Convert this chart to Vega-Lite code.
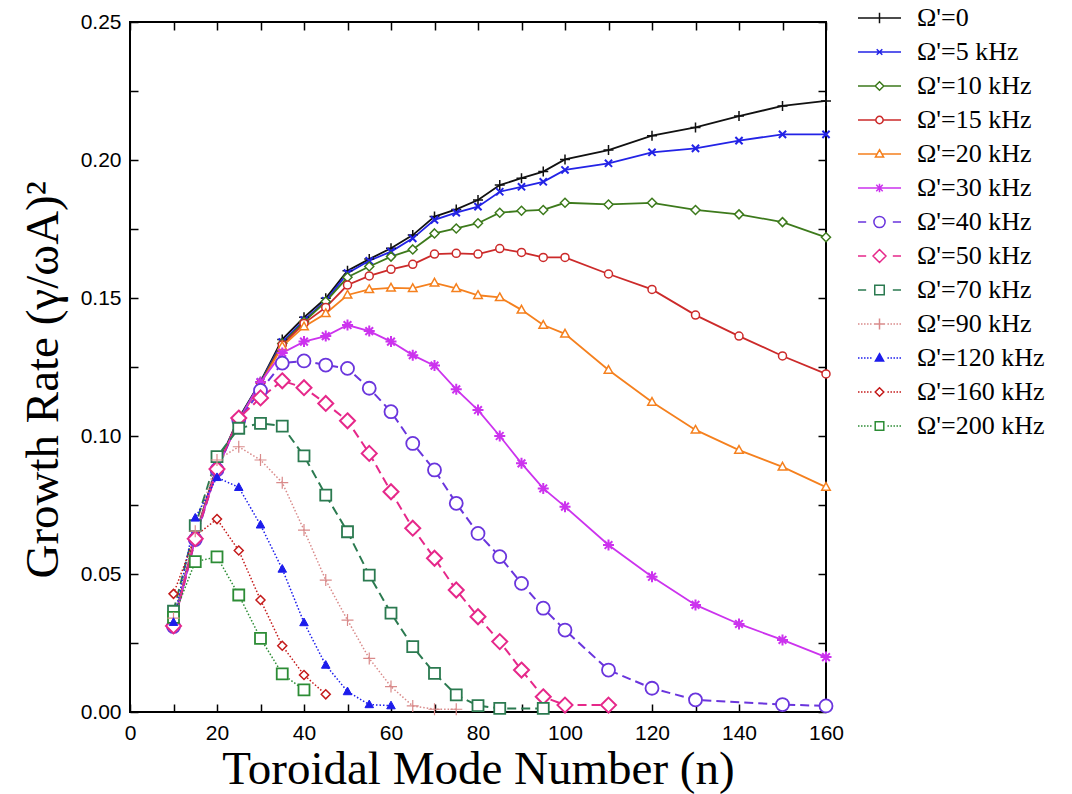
{
  "$schema": "https://vega.github.io/schema/vega-lite/v6.json",
  "width": 696,
  "height": 690,
  "autosize": {"type": "none"},
  "padding": {"left": 130, "top": 22, "right": 246, "bottom": 82},
  "background": "white",
  "data": {
    "values": [
      {"s": "Ω'=0", "n": 10, "g": 0.032}, {"s": "Ω'=0", "n": 15, "g": 0.064}, {"s": "Ω'=0", "n": 20, "g": 0.089}, {"s": "Ω'=0", "n": 25, "g": 0.1065}, {"s": "Ω'=0", "n": 30, "g": 0.1197}, {"s": "Ω'=0", "n": 35, "g": 0.135}, {"s": "Ω'=0", "n": 40, "g": 0.143}, {"s": "Ω'=0", "n": 45, "g": 0.1499}, {"s": "Ω'=0", "n": 50, "g": 0.1599}, {"s": "Ω'=0", "n": 55, "g": 0.1641}, {"s": "Ω'=0", "n": 60, "g": 0.168}, {"s": "Ω'=0", "n": 65, "g": 0.1728}, {"s": "Ω'=0", "n": 70, "g": 0.1795}, {"s": "Ω'=0", "n": 75, "g": 0.1821}, {"s": "Ω'=0", "n": 80, "g": 0.1855}, {"s": "Ω'=0", "n": 85, "g": 0.1909}, {"s": "Ω'=0", "n": 90, "g": 0.1934}, {"s": "Ω'=0", "n": 95, "g": 0.1958}, {"s": "Ω'=0", "n": 100, "g": 0.2002}, {"s": "Ω'=0", "n": 110, "g": 0.2036}, {"s": "Ω'=0", "n": 120, "g": 0.2088}, {"s": "Ω'=0", "n": 130, "g": 0.2118}, {"s": "Ω'=0", "n": 140, "g": 0.2159}, {"s": "Ω'=0", "n": 150, "g": 0.2196}, {"s": "Ω'=0", "n": 160, "g": 0.2214},
      {"s": "Ω'=5 kHz", "n": 10, "g": 0.0318}, {"s": "Ω'=5 kHz", "n": 15, "g": 0.0638}, {"s": "Ω'=5 kHz", "n": 20, "g": 0.0888}, {"s": "Ω'=5 kHz", "n": 25, "g": 0.1062}, {"s": "Ω'=5 kHz", "n": 30, "g": 0.1195}, {"s": "Ω'=5 kHz", "n": 35, "g": 0.134}, {"s": "Ω'=5 kHz", "n": 40, "g": 0.142}, {"s": "Ω'=5 kHz", "n": 45, "g": 0.149}, {"s": "Ω'=5 kHz", "n": 50, "g": 0.159}, {"s": "Ω'=5 kHz", "n": 55, "g": 0.1635}, {"s": "Ω'=5 kHz", "n": 60, "g": 0.1668}, {"s": "Ω'=5 kHz", "n": 65, "g": 0.1716}, {"s": "Ω'=5 kHz", "n": 70, "g": 0.1783}, {"s": "Ω'=5 kHz", "n": 75, "g": 0.1809}, {"s": "Ω'=5 kHz", "n": 80, "g": 0.1831}, {"s": "Ω'=5 kHz", "n": 85, "g": 0.1885}, {"s": "Ω'=5 kHz", "n": 90, "g": 0.1903}, {"s": "Ω'=5 kHz", "n": 95, "g": 0.1921}, {"s": "Ω'=5 kHz", "n": 100, "g": 0.1964}, {"s": "Ω'=5 kHz", "n": 110, "g": 0.1988}, {"s": "Ω'=5 kHz", "n": 120, "g": 0.2028}, {"s": "Ω'=5 kHz", "n": 130, "g": 0.2042}, {"s": "Ω'=5 kHz", "n": 140, "g": 0.207}, {"s": "Ω'=5 kHz", "n": 150, "g": 0.2093}, {"s": "Ω'=5 kHz", "n": 160, "g": 0.2093},
      {"s": "Ω'=10 kHz", "n": 10, "g": 0.0316}, {"s": "Ω'=10 kHz", "n": 15, "g": 0.0636}, {"s": "Ω'=10 kHz", "n": 20, "g": 0.0886}, {"s": "Ω'=10 kHz", "n": 25, "g": 0.106}, {"s": "Ω'=10 kHz", "n": 30, "g": 0.1193}, {"s": "Ω'=10 kHz", "n": 35, "g": 0.1335}, {"s": "Ω'=10 kHz", "n": 40, "g": 0.1414}, {"s": "Ω'=10 kHz", "n": 45, "g": 0.1487}, {"s": "Ω'=10 kHz", "n": 50, "g": 0.1575}, {"s": "Ω'=10 kHz", "n": 55, "g": 0.1614}, {"s": "Ω'=10 kHz", "n": 60, "g": 0.165}, {"s": "Ω'=10 kHz", "n": 65, "g": 0.1676}, {"s": "Ω'=10 kHz", "n": 70, "g": 0.1734}, {"s": "Ω'=10 kHz", "n": 75, "g": 0.1752}, {"s": "Ω'=10 kHz", "n": 80, "g": 0.1771}, {"s": "Ω'=10 kHz", "n": 85, "g": 0.1809}, {"s": "Ω'=10 kHz", "n": 90, "g": 0.1816}, {"s": "Ω'=10 kHz", "n": 95, "g": 0.1819}, {"s": "Ω'=10 kHz", "n": 100, "g": 0.1845}, {"s": "Ω'=10 kHz", "n": 110, "g": 0.1839}, {"s": "Ω'=10 kHz", "n": 120, "g": 0.1845}, {"s": "Ω'=10 kHz", "n": 130, "g": 0.1819}, {"s": "Ω'=10 kHz", "n": 140, "g": 0.1803}, {"s": "Ω'=10 kHz", "n": 150, "g": 0.1775}, {"s": "Ω'=10 kHz", "n": 160, "g": 0.172},
      {"s": "Ω'=15 kHz", "n": 10, "g": 0.0315}, {"s": "Ω'=15 kHz", "n": 15, "g": 0.0634}, {"s": "Ω'=15 kHz", "n": 20, "g": 0.0884}, {"s": "Ω'=15 kHz", "n": 25, "g": 0.1058}, {"s": "Ω'=15 kHz", "n": 30, "g": 0.119}, {"s": "Ω'=15 kHz", "n": 35, "g": 0.133}, {"s": "Ω'=15 kHz", "n": 40, "g": 0.1408}, {"s": "Ω'=15 kHz", "n": 45, "g": 0.1466}, {"s": "Ω'=15 kHz", "n": 50, "g": 0.1547}, {"s": "Ω'=15 kHz", "n": 55, "g": 0.158}, {"s": "Ω'=15 kHz", "n": 60, "g": 0.1604}, {"s": "Ω'=15 kHz", "n": 65, "g": 0.1622}, {"s": "Ω'=15 kHz", "n": 70, "g": 0.1659}, {"s": "Ω'=15 kHz", "n": 75, "g": 0.1662}, {"s": "Ω'=15 kHz", "n": 80, "g": 0.1659}, {"s": "Ω'=15 kHz", "n": 85, "g": 0.1679}, {"s": "Ω'=15 kHz", "n": 90, "g": 0.1665}, {"s": "Ω'=15 kHz", "n": 95, "g": 0.1647}, {"s": "Ω'=15 kHz", "n": 100, "g": 0.1647}, {"s": "Ω'=15 kHz", "n": 110, "g": 0.1587}, {"s": "Ω'=15 kHz", "n": 120, "g": 0.1531}, {"s": "Ω'=15 kHz", "n": 130, "g": 0.1438}, {"s": "Ω'=15 kHz", "n": 140, "g": 0.1362}, {"s": "Ω'=15 kHz", "n": 150, "g": 0.129}, {"s": "Ω'=15 kHz", "n": 160, "g": 0.1225},
      {"s": "Ω'=20 kHz", "n": 10, "g": 0.0314}, {"s": "Ω'=20 kHz", "n": 15, "g": 0.0632}, {"s": "Ω'=20 kHz", "n": 20, "g": 0.0882}, {"s": "Ω'=20 kHz", "n": 25, "g": 0.1056}, {"s": "Ω'=20 kHz", "n": 30, "g": 0.1188}, {"s": "Ω'=20 kHz", "n": 35, "g": 0.1325}, {"s": "Ω'=20 kHz", "n": 40, "g": 0.1396}, {"s": "Ω'=20 kHz", "n": 45, "g": 0.1444}, {"s": "Ω'=20 kHz", "n": 50, "g": 0.1511}, {"s": "Ω'=20 kHz", "n": 55, "g": 0.1531}, {"s": "Ω'=20 kHz", "n": 60, "g": 0.1537}, {"s": "Ω'=20 kHz", "n": 65, "g": 0.1535}, {"s": "Ω'=20 kHz", "n": 70, "g": 0.1555}, {"s": "Ω'=20 kHz", "n": 75, "g": 0.1535}, {"s": "Ω'=20 kHz", "n": 80, "g": 0.151}, {"s": "Ω'=20 kHz", "n": 85, "g": 0.1502}, {"s": "Ω'=20 kHz", "n": 90, "g": 0.1457}, {"s": "Ω'=20 kHz", "n": 95, "g": 0.1402}, {"s": "Ω'=20 kHz", "n": 100, "g": 0.137}, {"s": "Ω'=20 kHz", "n": 110, "g": 0.1239}, {"s": "Ω'=20 kHz", "n": 120, "g": 0.1123}, {"s": "Ω'=20 kHz", "n": 130, "g": 0.1022}, {"s": "Ω'=20 kHz", "n": 140, "g": 0.0949}, {"s": "Ω'=20 kHz", "n": 150, "g": 0.0888}, {"s": "Ω'=20 kHz", "n": 160, "g": 0.0815},
      {"s": "Ω'=30 kHz", "n": 10, "g": 0.0312}, {"s": "Ω'=30 kHz", "n": 15, "g": 0.063}, {"s": "Ω'=30 kHz", "n": 20, "g": 0.088}, {"s": "Ω'=30 kHz", "n": 25, "g": 0.1055}, {"s": "Ω'=30 kHz", "n": 30, "g": 0.1195}, {"s": "Ω'=30 kHz", "n": 35, "g": 0.1301}, {"s": "Ω'=30 kHz", "n": 40, "g": 0.1342}, {"s": "Ω'=30 kHz", "n": 45, "g": 0.1362}, {"s": "Ω'=30 kHz", "n": 50, "g": 0.1402}, {"s": "Ω'=30 kHz", "n": 55, "g": 0.138}, {"s": "Ω'=30 kHz", "n": 60, "g": 0.1342}, {"s": "Ω'=30 kHz", "n": 65, "g": 0.1293}, {"s": "Ω'=30 kHz", "n": 70, "g": 0.1255}, {"s": "Ω'=30 kHz", "n": 75, "g": 0.1169}, {"s": "Ω'=30 kHz", "n": 80, "g": 0.1094}, {"s": "Ω'=30 kHz", "n": 85, "g": 0.1}, {"s": "Ω'=30 kHz", "n": 90, "g": 0.0901}, {"s": "Ω'=30 kHz", "n": 95, "g": 0.081}, {"s": "Ω'=30 kHz", "n": 100, "g": 0.0744}, {"s": "Ω'=30 kHz", "n": 110, "g": 0.0605}, {"s": "Ω'=30 kHz", "n": 120, "g": 0.049}, {"s": "Ω'=30 kHz", "n": 130, "g": 0.0388}, {"s": "Ω'=30 kHz", "n": 140, "g": 0.0319}, {"s": "Ω'=30 kHz", "n": 150, "g": 0.0261}, {"s": "Ω'=30 kHz", "n": 160, "g": 0.0199},
      {"s": "Ω'=40 kHz", "n": 10, "g": 0.031}, {"s": "Ω'=40 kHz", "n": 15, "g": 0.0625}, {"s": "Ω'=40 kHz", "n": 20, "g": 0.0878}, {"s": "Ω'=40 kHz", "n": 25, "g": 0.1058}, {"s": "Ω'=40 kHz", "n": 30, "g": 0.1165}, {"s": "Ω'=40 kHz", "n": 35, "g": 0.1264}, {"s": "Ω'=40 kHz", "n": 40, "g": 0.1272}, {"s": "Ω'=40 kHz", "n": 45, "g": 0.1257}, {"s": "Ω'=40 kHz", "n": 50, "g": 0.1245}, {"s": "Ω'=40 kHz", "n": 55, "g": 0.1173}, {"s": "Ω'=40 kHz", "n": 60, "g": 0.1088}, {"s": "Ω'=40 kHz", "n": 65, "g": 0.0973}, {"s": "Ω'=40 kHz", "n": 70, "g": 0.0877}, {"s": "Ω'=40 kHz", "n": 75, "g": 0.0756}, {"s": "Ω'=40 kHz", "n": 80, "g": 0.0647}, {"s": "Ω'=40 kHz", "n": 85, "g": 0.0563}, {"s": "Ω'=40 kHz", "n": 90, "g": 0.0466}, {"s": "Ω'=40 kHz", "n": 95, "g": 0.0376}, {"s": "Ω'=40 kHz", "n": 100, "g": 0.0297}, {"s": "Ω'=40 kHz", "n": 110, "g": 0.0152}, {"s": "Ω'=40 kHz", "n": 120, "g": 0.0086}, {"s": "Ω'=40 kHz", "n": 130, "g": 0.0044}, {"s": "Ω'=40 kHz", "n": 150, "g": 0.0027}, {"s": "Ω'=40 kHz", "n": 160, "g": 0.0022},
      {"s": "Ω'=50 kHz", "n": 10, "g": 0.0312}, {"s": "Ω'=50 kHz", "n": 15, "g": 0.0628}, {"s": "Ω'=50 kHz", "n": 20, "g": 0.088}, {"s": "Ω'=50 kHz", "n": 25, "g": 0.1065}, {"s": "Ω'=50 kHz", "n": 30, "g": 0.1138}, {"s": "Ω'=50 kHz", "n": 35, "g": 0.12}, {"s": "Ω'=50 kHz", "n": 40, "g": 0.1175}, {"s": "Ω'=50 kHz", "n": 45, "g": 0.1118}, {"s": "Ω'=50 kHz", "n": 50, "g": 0.1055}, {"s": "Ω'=50 kHz", "n": 55, "g": 0.0937}, {"s": "Ω'=50 kHz", "n": 60, "g": 0.0798}, {"s": "Ω'=50 kHz", "n": 65, "g": 0.0666}, {"s": "Ω'=50 kHz", "n": 70, "g": 0.0557}, {"s": "Ω'=50 kHz", "n": 75, "g": 0.0442}, {"s": "Ω'=50 kHz", "n": 80, "g": 0.0345}, {"s": "Ω'=50 kHz", "n": 85, "g": 0.0255}, {"s": "Ω'=50 kHz", "n": 90, "g": 0.0152}, {"s": "Ω'=50 kHz", "n": 95, "g": 0.0055}, {"s": "Ω'=50 kHz", "n": 100, "g": 0.0025}, {"s": "Ω'=50 kHz", "n": 110, "g": 0.0025},
      {"s": "Ω'=70 kHz", "n": 10, "g": 0.0365}, {"s": "Ω'=70 kHz", "n": 15, "g": 0.0675}, {"s": "Ω'=70 kHz", "n": 20, "g": 0.0925}, {"s": "Ω'=70 kHz", "n": 25, "g": 0.1028}, {"s": "Ω'=70 kHz", "n": 30, "g": 0.1046}, {"s": "Ω'=70 kHz", "n": 35, "g": 0.1036}, {"s": "Ω'=70 kHz", "n": 40, "g": 0.0928}, {"s": "Ω'=70 kHz", "n": 45, "g": 0.0786}, {"s": "Ω'=70 kHz", "n": 50, "g": 0.0653}, {"s": "Ω'=70 kHz", "n": 55, "g": 0.0496}, {"s": "Ω'=70 kHz", "n": 60, "g": 0.0358}, {"s": "Ω'=70 kHz", "n": 65, "g": 0.0237}, {"s": "Ω'=70 kHz", "n": 70, "g": 0.014}, {"s": "Ω'=70 kHz", "n": 75, "g": 0.0062}, {"s": "Ω'=70 kHz", "n": 80, "g": 0.0023}, {"s": "Ω'=70 kHz", "n": 85, "g": 0.0013}, {"s": "Ω'=70 kHz", "n": 95, "g": 0.0013},
      {"s": "Ω'=90 kHz", "n": 10, "g": 0.034}, {"s": "Ω'=90 kHz", "n": 15, "g": 0.0655}, {"s": "Ω'=90 kHz", "n": 20, "g": 0.0913}, {"s": "Ω'=90 kHz", "n": 25, "g": 0.0961}, {"s": "Ω'=90 kHz", "n": 30, "g": 0.0913}, {"s": "Ω'=90 kHz", "n": 35, "g": 0.0831}, {"s": "Ω'=90 kHz", "n": 40, "g": 0.0659}, {"s": "Ω'=90 kHz", "n": 45, "g": 0.0478}, {"s": "Ω'=90 kHz", "n": 50, "g": 0.0333}, {"s": "Ω'=90 kHz", "n": 55, "g": 0.0194}, {"s": "Ω'=90 kHz", "n": 60, "g": 0.0092}, {"s": "Ω'=90 kHz", "n": 65, "g": 0.0022}, {"s": "Ω'=90 kHz", "n": 70, "g": 0.001}, {"s": "Ω'=90 kHz", "n": 75, "g": 0.001},
      {"s": "Ω'=120 kHz", "n": 10, "g": 0.0325}, {"s": "Ω'=120 kHz", "n": 15, "g": 0.0703}, {"s": "Ω'=120 kHz", "n": 20, "g": 0.085}, {"s": "Ω'=120 kHz", "n": 25, "g": 0.0814}, {"s": "Ω'=120 kHz", "n": 30, "g": 0.0678}, {"s": "Ω'=120 kHz", "n": 35, "g": 0.0518}, {"s": "Ω'=120 kHz", "n": 40, "g": 0.0324}, {"s": "Ω'=120 kHz", "n": 45, "g": 0.017}, {"s": "Ω'=120 kHz", "n": 50, "g": 0.0074}, {"s": "Ω'=120 kHz", "n": 55, "g": 0.0027}, {"s": "Ω'=120 kHz", "n": 60, "g": 0.0023},
      {"s": "Ω'=160 kHz", "n": 10, "g": 0.0428}, {"s": "Ω'=160 kHz", "n": 15, "g": 0.0638}, {"s": "Ω'=160 kHz", "n": 20, "g": 0.0699}, {"s": "Ω'=160 kHz", "n": 25, "g": 0.0585}, {"s": "Ω'=160 kHz", "n": 30, "g": 0.0406}, {"s": "Ω'=160 kHz", "n": 35, "g": 0.024}, {"s": "Ω'=160 kHz", "n": 40, "g": 0.0134}, {"s": "Ω'=160 kHz", "n": 45, "g": 0.0064},
      {"s": "Ω'=200 kHz", "n": 10, "g": 0.0343}, {"s": "Ω'=200 kHz", "n": 15, "g": 0.0545}, {"s": "Ω'=200 kHz", "n": 20, "g": 0.0562}, {"s": "Ω'=200 kHz", "n": 25, "g": 0.0424}, {"s": "Ω'=200 kHz", "n": 30, "g": 0.0267}, {"s": "Ω'=200 kHz", "n": 35, "g": 0.0138}, {"s": "Ω'=200 kHz", "n": 40, "g": 0.008}
    ]
  },
  "encoding": {
    "x": {"field": "n", "type": "quantitative", "scale": {"domain": [0, 160], "nice": false}, "axis": null},
    "y": {"field": "g", "type": "quantitative", "scale": {"domain": [0, 0.25], "nice": false}, "axis": null},
    "stroke": {
      "field": "s",
      "type": "nominal",
      "scale": {
        "domain": ["Ω'=0", "Ω'=5 kHz", "Ω'=10 kHz", "Ω'=15 kHz", "Ω'=20 kHz", "Ω'=30 kHz", "Ω'=40 kHz", "Ω'=50 kHz", "Ω'=70 kHz", "Ω'=90 kHz", "Ω'=120 kHz", "Ω'=160 kHz", "Ω'=200 kHz"],
        "range": ["#111111", "#2323e6", "#3d7a1c", "#cc2a2a", "#f5801e", "#cc33ee", "#6a35dd", "#e6288a", "#2b7a50", "#d98a8a", "#1c1cec", "#c41a1a", "#2c8c35"]
      }
    }
  },
  "layer": [
    {
      "transform": [{"filter": "false"}],
      "mark": {"type": "point", "fill": "white", "opacity": 1, "strokeWidth": 1.5},
      "encoding": {
        "x": {"field": "n", "type": "quantitative", "scale": {"domain": [0, 160], "nice": false},
              "axis": {"orient": "top", "values": [0, 10, 20, 30, 40, 50, 60, 70, 80, 90, 100, 110, 120, 130, 140, 150, 160], "labels": false, "title": null}},
        "y": {"field": "g", "type": "quantitative", "scale": {"domain": [0, 0.25], "nice": false},
              "axis": {"orient": "right", "values": [0, 0.025, 0.05, 0.075, 0.1, 0.125, 0.15, 0.175, 0.2, 0.225, 0.25], "labels": false, "title": null}},
        "stroke": {
          "field": "s", "type": "nominal",
          "legend": {"title": null, "orient": "none", "legendX": 727, "legendY": -17}
        },
        "shape": {
          "field": "s", "type": "nominal",
          "scale": {
            "domain": ["Ω'=0", "Ω'=5 kHz", "Ω'=10 kHz", "Ω'=15 kHz", "Ω'=20 kHz", "Ω'=30 kHz", "Ω'=40 kHz", "Ω'=50 kHz", "Ω'=70 kHz", "Ω'=90 kHz", "Ω'=120 kHz", "Ω'=160 kHz", "Ω'=200 kHz"],
            "range": [
              "M-1,0H1M0,-0.24V0.24",
              "M-1,0H1M-0.13,-0.13L0.13,0.13M-0.13,0.13L0.13,-0.13",
              "M-1,0H-0.2M0.2,0H1M0,-0.2L0.2,0L0,0.2L-0.2,0Z",
              "M-1,0H-0.17M0.17,0H1M-0.17,0A0.17,0.17,0,1,0,0.17,0A0.17,0.17,0,1,0,-0.17,0Z",
              "M-1,0H-0.12M0.12,0H1M0,-0.2L0.19,0.14L-0.19,0.14Z",
              "M-1,0H1M0,-0.2V0.2M-0.15,-0.15L0.15,0.15M-0.15,0.15L0.15,-0.15",
              "M-1,0H-0.62M0.62,0H1M-0.26,0A0.26,0.26,0,1,0,0.26,0A0.26,0.26,0,1,0,-0.26,0Z",
              "M-1,0H-0.62M0.62,0H1M0,-0.3L0.3,0L0,0.3L-0.3,0Z",
              "M-1,0H-0.62M0.62,0H1M-0.22,-0.22H0.22V0.22H-0.22Z",
              "M-1,0h0.07M-0.86,0h0.07M-0.72,0h0.07M-0.58,0h0.07M-0.44,0h0.07M0.37,0h0.07M0.51,0h0.07M0.65,0h0.07M0.79,0h0.07M0.93,0h0.07M-0.26,0H0.26M0,-0.26V0.26",
              "M-1,0h0.07M-0.86,0h0.07M-0.72,0h0.07M-0.58,0h0.07M-0.44,0h0.07M0.37,0h0.07M0.51,0h0.07M0.65,0h0.07M0.79,0h0.07M0.93,0h0.07M0,-0.2L0.19,0.14L-0.19,0.14ZM0,-0.11L0.1,0.08L-0.1,0.08ZM0,-0.03L0.03,0.03L-0.03,0.03Z",
              "M-1,0h0.07M-0.86,0h0.07M-0.72,0h0.07M-0.58,0h0.07M-0.44,0h0.07M0.37,0h0.07M0.51,0h0.07M0.65,0h0.07M0.79,0h0.07M0.93,0h0.07M0,-0.2L0.2,0L0,0.2L-0.2,0Z",
              "M-1,0h0.07M-0.86,0h0.07M-0.72,0h0.07M-0.58,0h0.07M-0.44,0h0.07M0.37,0h0.07M0.51,0h0.07M0.65,0h0.07M0.79,0h0.07M0.93,0h0.07M-0.2,-0.2H0.2V0.2H-0.2Z"
            ]
          },
          "legend": {"title": null, "orient": "none", "legendX": 727, "legendY": -17}
        }
      }
    },
    {
      "transform": [{"filter": {"field": "s", "oneOf": ["Ω'=0", "Ω'=5 kHz", "Ω'=10 kHz", "Ω'=15 kHz", "Ω'=20 kHz", "Ω'=30 kHz"]}}],
      "mark": {"type": "line", "strokeWidth": 1.8},
      "encoding": {
        "x": {"field": "n", "type": "quantitative", "scale": {"domain": [0, 160], "nice": false},
              "axis": {"orient": "bottom", "values": [0, 10, 20, 30, 40, 50, 60, 70, 80, 90, 100, 110, 120, 130, 140, 150, 160],
                       "labelExpr": "datum.value % 20 === 0 ? datum.label : ''", "format": "d", "labelPadding": 18,
                       "title": "Toroidal Mode Number (n)", "titleY": 71, "titleBaseline": "alphabetic"}},
        "y": {"field": "g", "type": "quantitative", "scale": {"domain": [0, 0.25], "nice": false},
              "axis": {"orient": "left", "values": [0, 0.025, 0.05, 0.075, 0.1, 0.125, 0.15, 0.175, 0.2, 0.225, 0.25],
                       "labelExpr": "abs(datum.value * 20 - round(datum.value * 20)) < 0.001 ? format(datum.value, '.2f') : ''",
                       "labelPadding": 17,
                       "title": "Growth Rate (γ/ωA)²", "titleAngle": -90, "titleX": -73, "titleY": 556, "titleAlign": "left", "titleBaseline": "alphabetic"}}
      }
    },
    {
      "transform": [{"filter": {"field": "s", "oneOf": ["Ω'=40 kHz", "Ω'=50 kHz", "Ω'=70 kHz"]}}],
      "mark": {"type": "line", "strokeWidth": 2, "strokeDash": [9, 5]}
    },
    {
      "transform": [{"filter": {"field": "s", "oneOf": ["Ω'=90 kHz", "Ω'=120 kHz", "Ω'=160 kHz", "Ω'=200 kHz"]}}],
      "mark": {"type": "line", "strokeWidth": 1.5, "strokeDash": [1.5, 2]}
    },
    {
      "transform": [{"filter": {"field": "s", "equal": "Ω'=0"}}],
      "mark": {"type": "point", "shape": "M-1,0H1M0,-1V1", "size": 100, "strokeWidth": 1.5, "opacity": 1}
    },
    {
      "transform": [{"filter": {"field": "s", "equal": "Ω'=5 kHz"}}],
      "mark": {"type": "point", "shape": "M-0.8,-0.8L0.8,0.8M-0.8,0.8L0.8,-0.8", "size": 81, "strokeWidth": 2, "opacity": 1}
    },
    {
      "transform": [{"filter": {"field": "s", "oneOf": ["Ω'=10 kHz", "Ω'=160 kHz"]}}],
      "mark": {"type": "point", "shape": "M0,-1L1,0L0,1L-1,0Z", "size": 81, "strokeWidth": 1.5, "fill": "white", "opacity": 1}
    },
    {
      "transform": [{"filter": {"field": "s", "equal": "Ω'=15 kHz"}}],
      "mark": {"type": "point", "shape": "circle", "size": 64, "strokeWidth": 1.5, "fill": "white", "opacity": 1}
    },
    {
      "transform": [{"filter": {"field": "s", "equal": "Ω'=20 kHz"}}],
      "mark": {"type": "point", "shape": "M0,-1L0.95,0.7L-0.95,0.7Z", "size": 81, "strokeWidth": 1.5, "fill": "white", "opacity": 1}
    },
    {
      "transform": [{"filter": {"field": "s", "equal": "Ω'=30 kHz"}}],
      "mark": {"type": "point", "shape": "M-1,0H1M0,-1V1M-0.7,-0.7L0.7,0.7M-0.7,0.7L0.7,-0.7", "size": 121, "strokeWidth": 2, "opacity": 1}
    },
    {
      "transform": [{"filter": {"field": "s", "equal": "Ω'=40 kHz"}}],
      "mark": {"type": "point", "shape": "circle", "size": 169, "strokeWidth": 1.8, "fill": "white", "opacity": 1}
    },
    {
      "transform": [{"filter": {"field": "s", "equal": "Ω'=50 kHz"}}],
      "mark": {"type": "point", "shape": "M0,-1L1,0L0,1L-1,0Z", "size": 225, "strokeWidth": 2, "fill": "white", "opacity": 1}
    },
    {
      "transform": [{"filter": {"field": "s", "oneOf": ["Ω'=70 kHz", "Ω'=200 kHz"]}}],
      "mark": {"type": "point", "shape": "square", "size": 121, "strokeWidth": 1.8, "fill": "white", "opacity": 1}
    },
    {
      "transform": [{"filter": {"field": "s", "equal": "Ω'=90 kHz"}}],
      "mark": {"type": "point", "shape": "M-1,0H1M0,-1V1", "size": 144, "strokeWidth": 1.2, "opacity": 1}
    },
    {
      "transform": [{"filter": {"field": "s", "equal": "Ω'=120 kHz"}}],
      "mark": {"type": "point", "shape": "M0,-1L0.95,0.7L-0.95,0.7Z", "size": 81, "strokeWidth": 1, "fill": "#1c1cec", "opacity": 1}
    }
  ],
  "resolve": {"axis": {"x": "independent", "y": "independent"}},
  "config": {
    "view": {"stroke": "black", "strokeWidth": 2},
    "axis": {
      "domain": false, "grid": false, "ticks": true, "tickSize": -8, "tickColor": "black", "tickWidth": 1.5,
      "labelFont": "Liberation Sans", "labelFontSize": 21, "labelColor": "black", "labelFlush": false, "labelOverlap": false,
      "titleFont": "Liberation Serif", "titleFontSize": 47, "titleFontWeight": "normal", "titleColor": "black"
    },
    "legend": {
      "symbolSize": 1849, "symbolStrokeWidth": 1.5, "symbolOpacity": 1, "symbolStrokeColor": "black",
      "labelFont": "Liberation Serif", "labelFontSize": 26, "labelColor": "black", "labelOffset": 15,
      "clipHeight": 26, "rowPadding": 8, "padding": 0, "labelLimit": 300
    }
  }
}
